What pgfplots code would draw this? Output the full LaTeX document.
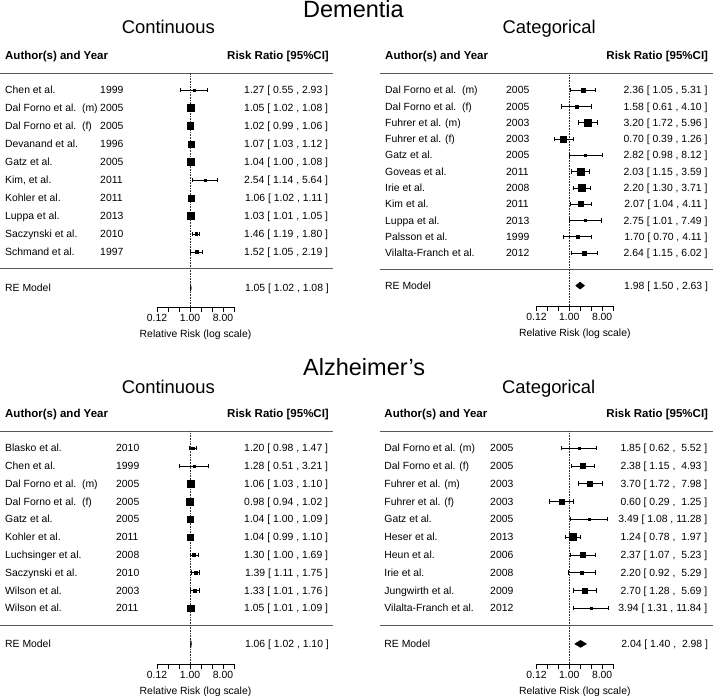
\documentclass[border=0pt]{standalone}
\usepackage{pgfplots}
\pgfplotsset{compat=1.18}
\usepackage{pgfplotstable}
\usepackage{fontspec}
\setmainfont{Liberation Sans}

\newcommand{\fBody}{\fontsize{10.4}{12}\selectfont}
\newcommand{\fHdr}{\fontsize{11.5}{13}\selectfont\bfseries}
\newcommand{\fTitle}{\fontsize{23.5}{28}\selectfont}
\newcommand{\fSub}{\fontsize{18.4}{22}\selectfont}
\newlength{\hiwd}
% one leading space for an upper limit below 10, as R pads it
\newcommand{\padhi}[1]{\settowidth{\hiwd}{#1}\ifdim\hiwd<2.4em\ \fi#1}
\newcommand{\nopad}[1]{#1}
\newcommand{\rr}[1]{\pgfmathprintnumber[fixed, fixed zerofill, precision=2, assume math mode=true]{#1}}

% studies: y = row, est/lo/hi = risk ratio and 95% CI, s = square side (pt)
\pgfplotstableread{
y name year est lo hi s
10 {Chen et al.} 1999 1.27 0.55 2.93 2
9 {Dal Forno et al.\ \ (m)} 2005 1.05 1.02 1.08 7
8 {Dal Forno et al.\ \ (f)} 2005 1.02 0.99 1.06 6.5
7 {Devanand et al.} 1996 1.07 1.03 1.12 6
6 {Gatz et al.} 2005 1.04 1.00 1.08 6.5
5 {Kim, et al.} 2011 2.54 1.14 5.64 2
4 {Kohler et al.} 2011 1.06 1.02 1.11 6
3 {Luppa et al.} 2013 1.03 1.01 1.05 7.5
2 {Saczynski et al.} 2010 1.46 1.19 1.80 2.5
1 {Schmand et al.} 1997 1.52 1.05 2.19 2.5
}\demcont

\pgfplotstableread{
y name year est lo hi s
11 {Dal Forno et al.\ \ (m)} 2005 2.36 1.05 5.31 4
10 {Dal Forno et al.\ \ (f)} 2005 1.58 0.61 4.10 3
9 {Fuhrer et al. (m)} 2003 3.20 1.72 5.96 6.5
8 {Fuhrer et al. (f)} 2003 0.70 0.39 1.26 6
7 {Gatz et al.} 2005 2.82 0.98 8.12 2
6 {Goveas et al.} 2011 2.03 1.15 3.59 6.5
5 {Irie et al.} 2008 2.20 1.30 3.71 7
4 {Kim et al.} 2011 2.07 1.04 4.11 5
3 {Luppa et al.} 2013 2.75 1.01 7.49 2.5
2 {Palsson et al.} 1999 1.70 0.70 4.11 3
1 {Vilalta-Franch et al.} 2012 2.64 1.15 6.02 4
}\demcat

\pgfplotstableread{
y name year est lo hi s
10 {Blasko et al.} 2010 1.20 0.98 1.47 2.5
9 {Chen et al.} 1999 1.28 0.51 3.21 2
8 {Dal Forno et al.\ \ (m)} 2005 1.06 1.03 1.10 6.5
7 {Dal Forno et al.\ \ (f)} 2005 0.98 0.94 1.02 6.5
6 {Gatz et al.} 2005 1.04 1.00 1.09 6
5 {Kohler et al.} 2011 1.04 0.99 1.10 6
4 {Luchsinger et al.} 2008 1.30 1.00 1.69 3
3 {Saczynski et al.} 2010 1.39 1.11 1.75 3
2 {Wilson et al.} 2003 1.33 1.01 1.76 3
1 {Wilson et al.} 2011 1.05 1.01 1.09 6.5
}\alzcont

\pgfplotstableread{
y name year est lo hi s
10 {Dal Forno et al. (m)} 2005 1.85 0.62 5.52 2.5
9 {Dal Forno et al. (f)} 2005 2.38 1.15 4.93 5
8 {Fuhrer et al. (m)} 2003 3.70 1.72 7.98 5
7 {Fuhrer et al. (f)} 2003 0.60 0.29 1.25 5
6 {Gatz et al.} 2005 3.49 1.08 11.28 2
5 {Heser et al.} 2013 1.24 0.78 1.97 7
4 {Heun et al.} 2006 2.37 1.07 5.23 4.5
3 {Irie et al.} 2008 2.20 0.92 5.29 3.5
2 {Jungwirth et al.} 2009 2.70 1.28 5.69 5
1 {Vilalta-Franch et al.} 2012 3.94 1.31 11.84 2.5
}\alzcat

\pgfplotsset{
  panel/.style={clip=false, enlargelimits=false,
    axis x line*=bottom, axis y line=none,
    x axis line style={-, black, line width=0.7pt},
    xmin=-3, xmax=4, xtick={-3,-2,-1,0,1,2,3,4},
    xticklabels={0.12,,,1.00,,,8.00,},
    tick align=outside, major tick length=5pt,
    every tick/.style={black, line width=0.7pt},
    xticklabel style={font=\fBody, anchor=base, yshift=-9.5pt, inner sep=0pt},
    xlabel={Relative Risk (log scale)},
    xlabel style={at={(axis description cs:0.5,0)}, anchor=base, yshift=-30pt,
      font=\fBody, inner sep=0pt}},
  txt/.style={only marks, mark=none, nodes near coords, point meta=explicit symbolic,
    every node near coord/.append style={font=\fBody, text=black, inner sep=0pt,
      anchor=base #1, yshift=-3.7pt}},
  cilabel/.style={visualization depends on={\thisrow{est} \as \cEst},
    visualization depends on={\thisrow{lo} \as \cLo},
    visualization depends on={\thisrow{hi} \as \cHi},
    nodes near coords={\rr{\cEst}\ [\ \rr{\cLo}\ ,\ #1{\rr{\cHi}}\ ]}},
  pts/.style={only marks, mark=square*, scatter,
    scatter/use mapped color={draw=none, fill=black},
    visualization depends on={\thisrow{s}/2 \as \ms},
    scatter/@pre marker code/.append style={/tikz/mark size=\ms},
    error bars/.cd, x dir=both, x explicit,
    error bar style={black, line width=0.6pt},
    error mark options={rotate=90, black, line width=0.6pt, mark size=2.2pt}},
}
\tikzset{txtnode/.style={font=\fBody, inner sep=0pt, yshift=-3.7pt},
  hdrnode/.style={font=\fHdr, inner sep=0pt, yshift=-4.1pt}}

% #1 table, #2 name x, #3 year x, #4 CI text x, #5 padding of upper limit
\newcommand{\studies}[5]{%
  \addplot[pts] table[x expr={ln(\thisrow{est})/ln(2)}, y=y,
    x error plus expr={ln(\thisrow{hi}/\thisrow{est})/ln(2)},
    x error minus expr={ln(\thisrow{est}/\thisrow{lo})/ln(2)}] {#1};
  \addplot[txt=west] table[x expr=#2, y=y, meta=name] {#1};
  \addplot[txt=west] table[x expr=#3, y=y, meta=year] {#1};
  \addplot[txt=east, cilabel=#5] table[x expr=#4, y=y, meta=year] {#1};
}
% #1 lo, #2 est, #3 hi, #4 top y, #5 bottom y
\newcommand{\summary}[5]{%
  \addplot[fill=black, draw=black, line width=0.4pt]
    table[row sep=\\, x expr={ln(\thisrow{x})/ln(2)}, y=y]
    {x y\\ #1 -1\\ #2 #4\\ #3 -1\\ #2 #5\\ #1 -1\\};
}
% #1 left x, #2 right x, #3 header rule y, #4 separator y, #5 axis y
\newcommand{\rules}[5]{%
  \draw[black!65, line width=0.8pt] (axis cs:#1,#3) -- (axis cs:#2,#3);
  \draw[black!65, line width=0.8pt] (axis cs:#1,#4) -- (axis cs:#2,#4);
  \addplot[densely dotted, black!80, line width=0.6pt] coordinates {(0,#5) (0,#3)};
}
% #1 name x, #2 CI x, #3 header y, #4 RE text
\newcommand{\labels}[4]{%
  \node[hdrnode, anchor=base west] at (axis cs:#1,#3) {Author(s) and Year};
  \node[hdrnode, anchor=base east] at (axis cs:#2,#3) {Risk Ratio [95\%CI]};
  \node[txtnode, anchor=base west] at (axis cs:#1,-1) {RE Model};
  \node[txtnode, anchor=base east] at (axis cs:#2,-1) {#4};
}

\begin{document}
\begin{tikzpicture}
\useasboundingbox (0,0) rectangle (713pt,-696pt);
\node[anchor=base west, font=\fTitle, inner sep=0pt] at (303pt,-17.3pt) {Dementia};
\node[anchor=base, font=\fSub, inner sep=0pt] at (168.3pt,-33.3pt) {Continuous};
\node[anchor=base, font=\fSub, inner sep=0pt] at (549.2pt,-33.3pt) {Categorical};
\node[anchor=base west, font=\fTitle, inner sep=0pt] at (303pt,-375pt) {Alzheimer’s};
\node[anchor=base, font=\fSub, inner sep=0pt] at (168.3pt,-393.3pt) {Continuous};
\node[anchor=base, font=\fSub, inner sep=0pt] at (548.7pt,-393.3pt) {Categorical};

% Dementia, continuous
\begin{axis}[panel, at={(157pt,-307pt)}, anchor=south west, x=11pt, y=18pt, ymin=-2.06, ymax=12]
  \rules{-17.27}{13}{10.94}{0.11}{-2.06}
  \studies{\demcont}{-16.82}{-8.18}{12.57}{\nopad}
  \summary{1.02}{1.05}{1.08}{-0.8}{-1.2}
  \labels{-16.82}{12.64}{11.94}{1.05 [ 1.02 , 1.08 ]}
\end{axis}

% Dementia, categorical
\begin{axis}[panel, at={(536.45pt,-306pt)}, anchor=south west, x=10.95pt, y=16.3pt, ymin=-2.25, ymax=13.5]
  \rules{-17.29}{13.12}{12.04}{0.02}{-2.25}
  \studies{\demcat}{-16.83}{-5.78}{12.64}{\nopad}
  \summary{1.50}{1.98}{2.63}{-0.78}{-1.22}
  \labels{-16.83}{12.69}{13.15}{1.98 [ 1.50 , 2.63 ]}
\end{axis}

% Alzheimer's, continuous
\begin{axis}[panel, at={(157pt,-664pt)}, anchor=south west, x=11pt, y=17.8pt, ymin=-2.13, ymax=12]
  \rules{-17.27}{13}{10.96}{0.06}{-2.13}
  \studies{\alzcont}{-16.82}{-6.73}{12.57}{\nopad}
  \summary{1.02}{1.06}{1.10}{-0.8}{-1.2}
  \labels{-16.82}{12.64}{11.97}{1.06 [ 1.02 , 1.10 ]}
\end{axis}

% Alzheimer's, categorical
\begin{axis}[panel, at={(536.45pt,-664pt)}, anchor=south west, x=10.95pt, y=17.8pt, ymin=-2.13, ymax=12]
  \rules{-17.29}{13.12}{10.96}{0.06}{-2.13}
  \studies{\alzcat}{-16.9}{-7.24}{12.62}{\padhi}
  \summary{1.40}{2.04}{2.98}{-0.8}{-1.2}
  \labels{-16.9}{12.69}{11.97}{2.04 [ 1.40 , \padhi{2.98} ]}
\end{axis}
\end{tikzpicture}
\end{document}
